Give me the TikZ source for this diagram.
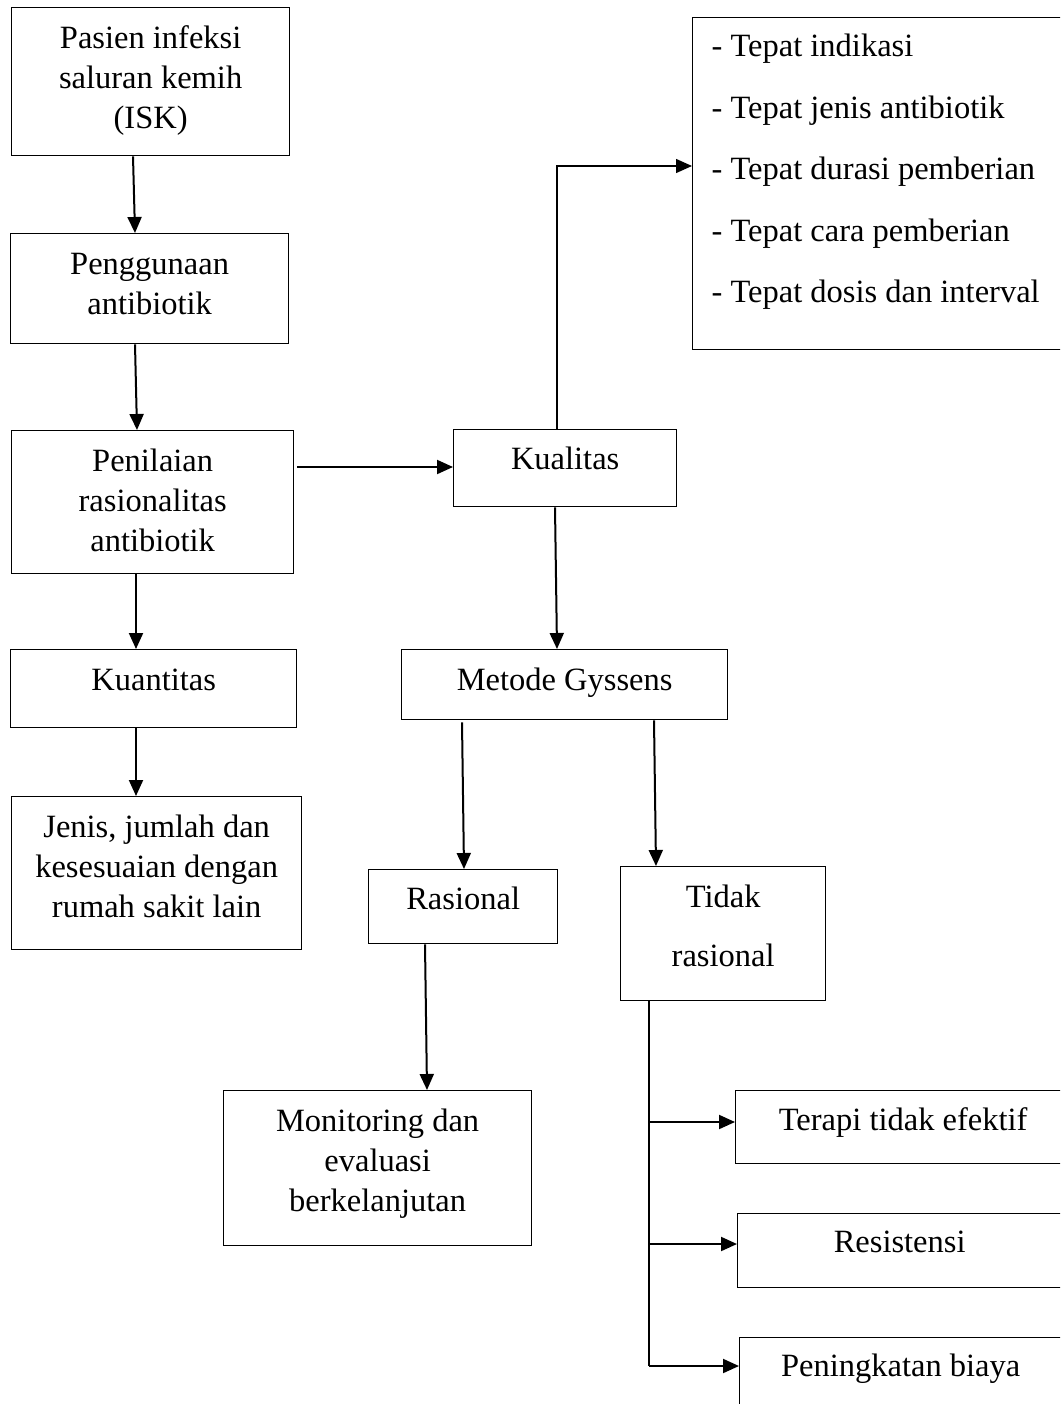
\documentclass[tikz,border=0pt]{standalone}
\usepackage{fontspec}
\setmainfont{Liberation Serif}
\usetikzlibrary{arrows.meta,calc}
\begin{document}
\begin{tikzpicture}[x=1pt,y=-1pt,
  box/.style={draw, line width=1.3pt, rectangle, inner sep=0pt, anchor=north west, align=center, font=\fontsize{32.5}{40}\selectfont},
  tipshape/.style={-{Triangle[length=16pt,width=14pt]}},
  arr/.style={line width=2pt, tipshape},
  thinline/.style={line width=1.3pt}]
\useasboundingbox (0,0) rectangle (1060,1404);
\clip (0,0) rectangle (1060,1404);
\fill[white] (0,0) rectangle (1060,1404);

% left column
\node[box, minimum width=278pt] (pasien) at (11,7)
  {\rule{0pt}{41pt}Pasien infeksi\\saluran kemih\\(ISK)\rule[-27pt]{0pt}{27pt}};
\node[box, minimum width=278pt] (penggunaan) at (10,233)
  {\rule{0pt}{41pt}Penggunaan\\antibiotik\rule[-29pt]{0pt}{29pt}};
\node[box, minimum width=282pt] (penilaian) at (11,430)
  {\rule{0pt}{41pt}Penilaian\\rasionalitas\\antibiotik\rule[-22pt]{0pt}{22pt}};
\node[box, minimum width=286pt, text height=41pt, text depth=37pt] (kuantitas) at (10,649) {Kuantitas};
\node[box, minimum width=290pt] (jenis) at (11,796)
  {\rule{0pt}{41pt}Jenis, jumlah dan\\kesesuaian dengan\\rumah sakit lain\rule[-32pt]{0pt}{32pt}};

% middle column
\node[box, minimum width=223pt, text height=40pt, text depth=37pt] (kualitas) at (453,429) {Kualitas};
\node[box, minimum width=326pt, text height=41pt, text depth=29pt] (metode) at (401,649) {Metode Gyssens};
\node[box, minimum width=189pt, text height=40pt, text depth=34pt] (rasional) at (368,869) {Rasional};
\node[box, minimum width=205pt, font=\fontsize{32.5}{59}\selectfont] (tidak) at (620,866)
  {\rule{0pt}{41pt}Tidak\\rasional\rule[-34pt]{0pt}{34pt}};
\node[box, minimum width=308pt] (monitoring) at (223,1090)
  {\rule{0pt}{41pt}Monitoring dan\\evaluasi\\berkelanjutan\rule[-34pt]{0pt}{34pt}};

% right column
\node[box, align=flush left, text width=360pt, inner xsep=19pt, inner ysep=0pt, font=\fontsize{32.5}{61.5}\selectfont] (list) at (692,17)
  {\rule{0pt}{39pt}- Tepat indikasi\\- Tepat jenis antibiotik\\- Tepat durasi pemberian\\- Tepat cara pemberian\\- Tepat dosis dan interval\rule[-47pt]{0pt}{47pt}};
\node[box, minimum width=335pt, text height=40pt, text depth=33pt] (terapi) at (735,1090) {Terapi tidak efektif};
\node[box, minimum width=324pt, text height=39pt, text depth=35pt] (resistensi) at (737,1213) {Resistensi};
\node[box, minimum width=322pt, text height=39pt, text depth=80pt] (biaya) at (739,1337) {Peningkatan biaya};

% connectors
\draw[arr] ([shift={(122,0)}]pasien.south west) -- ([shift={(125,0)}]penggunaan.north west);
\draw[arr] ([shift={(125,0)}]penggunaan.south west) -- ([shift={(126,0)}]penilaian.north west);
\draw[arr] ([shift={(125,0)}]penilaian.south west) -- ([shift={(126,0)}]kuantitas.north west);
\draw[arr] ([shift={(126,0)}]kuantitas.south west) -- ([shift={(125,0)}]jenis.north west);
\draw[arr] ([shift={(3,37)}]penilaian.north east) -- ([shift={(0,38)}]kualitas.north west);
\draw[thinline, tipshape] ([shift={(104,0)}]kualitas.north west) |- ([shift={(0,149)}]list.north west);
\draw[arr] ([shift={(102,0)}]kualitas.south west) -- ([shift={(156,0)}]metode.north west);
\draw[arr] ([shift={(61,2)}]metode.south west) -- ([shift={(96,0)}]rasional.north west);
\draw[arr] ([shift={(253,0)}]metode.south west) -- ([shift={(36,0)}]tidak.north west);
\draw[arr] ([shift={(57,0)}]rasional.south west) -- ([shift={(204,0)}]monitoring.north west);

\coordinate (trunk) at ([shift={(29,0)}]tidak.south west);
\coordinate (terapiin) at ([shift={(0,32)}]terapi.north west);
\coordinate (resistin) at ([shift={(0,31)}]resistensi.north west);
\coordinate (biayain) at ([shift={(0,29)}]biaya.north west);
\draw[thinline] (trunk) -- (trunk |- biayain);
\draw[arr] (trunk |- terapiin) -- (terapiin);
\draw[arr] (trunk |- resistin) -- (resistin);
\draw[arr] (trunk |- biayain) -- (biayain);
\end{tikzpicture}
\end{document}
